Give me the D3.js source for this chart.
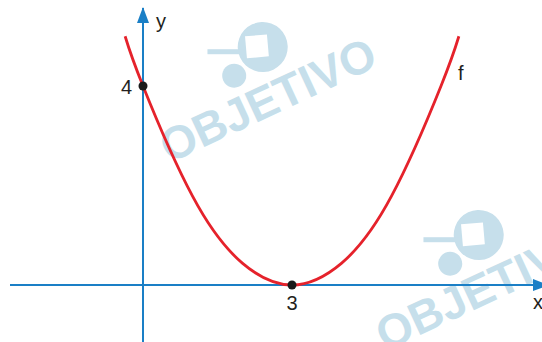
<!DOCTYPE html>
<html>
<head>
<meta charset="utf-8">
<script src="https://cdn.jsdelivr.net/npm/d3@7.9.0/dist/d3.min.js"></script>
<style>
  html, body { margin: 0; padding: 0; background: #fff; }
  svg { display: block; }
  text { font-family: "Liberation Sans", Arial, sans-serif; }
</style>
</head>
<body>
<svg id="chart" width="542" height="342"></svg>
<script>
/* --- Data --- */
const curveX = [-0.36, 0, 1, 2, 3, 4, 5, 6, 6.36];       // f, sampled along the drawn curve
const curveY = [5.0, 4, 1.78, 0.44, 0, 0.44, 1.78, 4, 5.0];
const markedPoints = [{ x: 0, y: 4 }, { x: 3, y: 0 }];    // black dots
const xTickLabels = [{ value: 3, label: '3' }];
const yTickLabels = [{ value: 4, label: '4' }];
const watermarkText = 'OBJETIVO';

/* --- Layout --- */
const W = 542, H = 342;
const blue = '#1a7fc6';
const red = '#e5222b';
const wmColor = '#c6dfeb';

const svg = d3.select('#chart');

/* --- Scales: origin at (143, 285) --- */
const x = d3.scaleLinear().domain([0, 3]).range([143, 292]);
const y = d3.scaleLinear().domain([0, 4]).range([285, 86]);

/* --- Watermarks (drawn first, behind everything) --- */
function watermark(tx, ty) {
  const g = svg.append('g')
    .attr('transform', `translate(${tx},${ty}) rotate(-25)`)
    .attr('fill', wmColor);
  // logo: ball + square + small circle + bar
  g.append('circle').attr('cx', 36).attr('cy', -66).attr('r', 25);
  g.append('rect')
    .attr('x', 20).attr('y', -80).attr('width', 22).attr('height', 22)
    .attr('fill', '#fff')
    .attr('transform', 'rotate(20,31,-69)');
  g.append('circle').attr('cx', -2).attr('cy', -52).attr('r', 12);
  g.append('rect').attr('x', -18).attr('y', -80).attr('width', 36).attr('height', 5)
    .attr('transform', 'rotate(25,0,-77)');
  g.append('text')
    .attr('x', -98).attr('y', 0)
    .attr('font-size', 46)
    .attr('font-weight', 'bold')
    .attr('font-family', '"DejaVu Sans", sans-serif')
    .text(watermarkText);
}
watermark(258, 122);
watermark(474, 310);

/* --- Axes with arrowheads --- */
const defs = svg.append('defs');
defs.append('marker')
  .attr('id', 'arrow')
  .attr('viewBox', '0 0 16 12')
  .attr('refX', 15).attr('refY', 6)
  .attr('markerWidth', 16).attr('markerHeight', 12)
  .attr('markerUnits', 'userSpaceOnUse')
  .attr('orient', 'auto')
  .append('path')
  .attr('d', 'M0,0 L16,6 L0,12 Z')
  .attr('fill', blue);

// x axis
svg.append('line')
  .attr('x1', 10).attr('y1', y(0))
  .attr('x2', 548).attr('y2', y(0))
  .attr('stroke', blue).attr('stroke-width', 2)
  .attr('marker-end', 'url(#arrow)');

// y axis
svg.append('line')
  .attr('x1', x(0)).attr('y1', H)
  .attr('x2', x(0)).attr('y2', 8)
  .attr('stroke', blue).attr('stroke-width', 2)
  .attr('marker-end', 'url(#arrow)');

/* --- Parabola f --- */
const pts = curveX.map((v, i) => [v, curveY[i]]);
const line = d3.line()
  .x(d => x(d[0]))
  .y(d => y(d[1]))
  .curve(d3.curveNatural);

svg.append('path')
  .datum(pts)
  .attr('d', line)
  .attr('fill', 'none')
  .attr('stroke', red)
  .attr('stroke-width', 2.8);

/* --- Marked points --- */
svg.selectAll('circle.pt')
  .data(markedPoints)
  .enter()
  .append('circle')
  .attr('class', 'pt')
  .attr('cx', d => x(d.x))
  .attr('cy', d => y(d.y))
  .attr('r', 4.5)
  .attr('fill', '#1a1a1a');

/* --- Labels --- */
const labelStyle = sel => sel.attr('font-size', 20).attr('fill', '#231f20');

svg.selectAll('text.xt')
  .data(xTickLabels)
  .enter()
  .append('text')
  .attr('class', 'xt')
  .attr('x', d => x(d.value))
  .attr('y', y(0) + 25)
  .attr('text-anchor', 'middle')
  .call(labelStyle)
  .text(d => d.label);

svg.selectAll('text.yt')
  .data(yTickLabels)
  .enter()
  .append('text')
  .attr('class', 'yt')
  .attr('x', x(0) - 11)
  .attr('y', d => y(d.value) + 8)
  .attr('text-anchor', 'end')
  .call(labelStyle)
  .text(d => d.label);

svg.append('text').attr('x', 156).attr('y', 28).call(labelStyle).text('y');
svg.append('text').attr('x', 533).attr('y', 309).call(labelStyle).text('x');
svg.append('text').attr('x', 458).attr('y', 80).call(labelStyle).text('f');
</script>
</body>
</html>
